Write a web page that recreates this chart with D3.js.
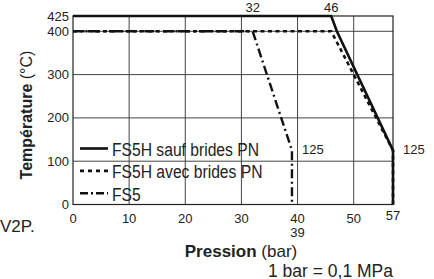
<!DOCTYPE html>
<html>
<head>
<meta charset="utf-8">
<script src="https://cdn.jsdelivr.net/npm/d3@7"></script>
<style>
  body { margin: 0; background: #fff; }
  svg text { font-family: "Liberation Sans", Arial, sans-serif; fill: #222; }
</style>
</head>
<body>
<div id="chart"></div>
<script>
// Data
const xTicks = [0, 10, 20, 30, 40, 50];
const yTicks = [0, 100, 200, 300, 400, 425];
const seriesNames = ["FS5H sauf brides PN", "FS5H avec brides PN", "FS5"];
const sansBrides = [[0, 425], [46, 425], [47, 400], [57, 125], [57, 0]];
const avecBrides = [[0, 400], [46, 400], [57, 125], [57, 0]];
const fs5 = [[0, 400], [32, 400], [39, 125], [39, 0]];
const pointLabels = [
  { text: "32", x: 32, y: 425, pos: "top" },
  { text: "46", x: 46, y: 425, pos: "top" },
  { text: "125", x: 39, y: 125, pos: "right" },
  { text: "125", x: 57, y: 125, pos: "right" }
];

const width = 434, height = 279;
const svg = d3.select("#chart").append("svg")
  .attr("width", width)
  .attr("height", height);

const x = d3.scaleLinear().domain([0, 57]).range([73, 393]);
// top of the frame is stretched a little (425 sits further up than linear)
const y = d3.scaleLinear().domain([0, 400, 425]).range([204.5, 31.3, 16]);

// grid
const grid = svg.append("g").attr("stroke", "#444").attr("stroke-width", 1);
grid.selectAll("line.v")
  .data(xTicks.slice(1))
  .enter().append("line")
  .attr("x1", d => x(d)).attr("x2", d => x(d))
  .attr("y1", y(0)).attr("y2", y(425));
grid.selectAll("line.h")
  .data([100, 200, 300, 400])
  .enter().append("line")
  .attr("x1", x(0)).attr("x2", x(57))
  .attr("y1", d => y(d)).attr("y2", d => y(d));

// frame
svg.append("rect")
  .attr("x", x(0)).attr("y", y(425))
  .attr("width", x(57) - x(0)).attr("height", y(0) - y(425))
  .attr("fill", "none").attr("stroke", "#222").attr("stroke-width", 1.2);

// tick labels
svg.append("g").selectAll("text")
  .data(yTicks)
  .enter().append("text")
  .attr("x", 69)
  .attr("y", d => y(d) + 4.5)
  .attr("text-anchor", "end")
  .attr("font-size", 13)
  .text(d => d);

svg.append("g").selectAll("text")
  .data(xTicks)
  .enter().append("text")
  .attr("x", d => x(d))
  .attr("y", 223)
  .attr("text-anchor", "middle")
  .attr("font-size", 13)
  .text(d => d);

svg.append("text").attr("x", x(57)).attr("y", 220)
  .attr("text-anchor", "middle").attr("font-size", 13).text("57");
svg.append("text").attr("x", x(40)).attr("y", 236.5)
  .attr("text-anchor", "middle").attr("font-size", 13).text("39");

// series
const line = d3.line().x(d => x(d[0])).y(d => y(d[1]));
const series = [
  { data: avecBrides, dash: "4,3.5", width: 2.6 },
  { data: fs5, dash: "9,3.5,2,3.5", width: 2.4 },
  { data: sansBrides, dash: null, width: 2.6 }
];
svg.append("g").selectAll("path")
  .data(series)
  .enter().append("path")
  .attr("d", d => line(d.data))
  .attr("fill", "none")
  .attr("stroke", "#111")
  .attr("stroke-width", d => d.width)
  .attr("stroke-dasharray", d => d.dash);

// point labels
svg.append("g").selectAll("text")
  .data(pointLabels)
  .enter().append("text")
  .attr("x", d => d.pos === "top" ? x(d.x) : x(d.x) + 10)
  .attr("y", d => d.pos === "top" ? y(d.y) - 4 : y(d.y) + 4)
  .attr("text-anchor", d => d.pos === "top" ? "middle" : "start")
  .attr("font-size", 13)
  .text(d => d.text);

// legend
const legendDash = [null, "4,4", "8,3,2,3"];
const legend = svg.append("g").selectAll("g")
  .data(seriesNames)
  .enter().append("g")
  .attr("transform", (d, i) => `translate(80, ${148.5 + i * 22.4})`);
legend.append("line")
  .attr("x1", 0).attr("x2", 28)
  .attr("stroke", "#111").attr("stroke-width", 2.6)
  .attr("stroke-dasharray", (d, i) => legendDash[i]);
legend.append("text")
  .attr("transform", "translate(32,7.5) scale(0.87,1)")
  .attr("font-size", 18)
  .text(d => d);

// axis titles
const yTitle = svg.append("text")
  .attr("transform", "translate(32,115) rotate(-90)")
  .attr("text-anchor", "middle")
  .attr("font-size", 16);
yTitle.append("tspan").attr("font-weight", "bold").text("Température");
yTitle.append("tspan").text(" (°C)");

const xTitle = svg.append("text")
  .attr("x", 241).attr("y", 256.5)
  .attr("text-anchor", "middle")
  .attr("font-size", 17);
xTitle.append("tspan").attr("font-weight", "bold").text("Pression");
xTitle.append("tspan").text(" (bar)");

svg.append("text")
  .attr("x", 393).attr("y", 276.5)
  .attr("text-anchor", "end")
  .attr("font-size", 17.5)
  .text("1 bar = 0,1 MPa");

svg.append("text")
  .attr("x", 0).attr("y", 232)
  .attr("font-size", 17)
  .text("V2P.");
</script>
</body>
</html>
